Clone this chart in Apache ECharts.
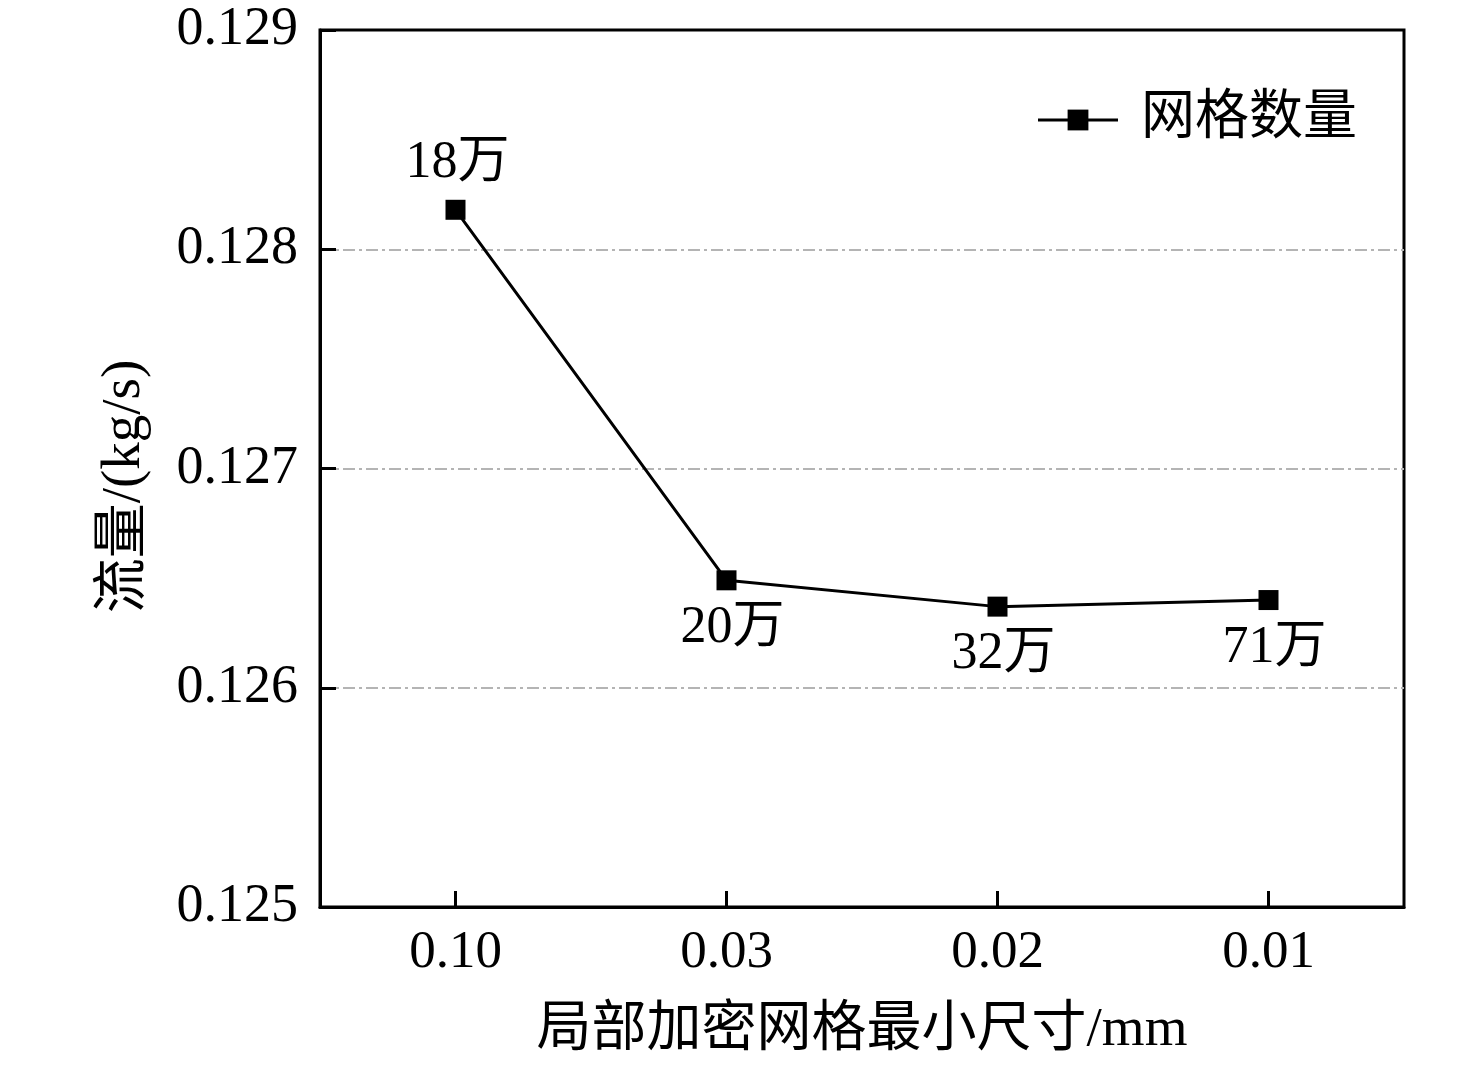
<!DOCTYPE html>
<html>
<head>
<meta charset="utf-8">
<script src="https://cdn.jsdelivr.net/npm/echarts@6/dist/echarts.min.js"></script>
<style>
  html, body { margin: 0; padding: 0; background: #fff; }
  #chart { width: 1476px; height: 1066px; }
</style>
</head>
<body>
<div id="chart"></div>
<script>
const sizes = ['0.10', '0.03', '0.02', '0.01']
const flow = [0.12818, 0.12649, 0.12637, 0.12640]
const meshCount = ['18万', '20万', '32万', '71万']
const yTicks = [0.125, 0.126, 0.127, 0.128, 0.129]

const FONT = '"Liberation Serif", "Times New Roman", "Noto Sans CJK SC", serif'
const chart = echarts.init(document.getElementById('chart'))

// first label sits above the point, the rest below
let points = flow.map(function (v, i) {
  return {
    value: v,
    label: {
      formatter: meshCount[i],
      position: i == 0 ? 'top' : 'bottom',
      distance: i == 0 ? 10 : 12,
      offset: i == 0 ? [2, 0] : [6, 0]
    }
  }
})

chart.setOption({
  animation: false,
  grid: {
    left: 320, right: 72, top: 30, bottom: 159,
    show: true,
    borderColor: '#000',
    borderWidth: 3
  },
  legend: {
    right: 114,
    top: 88,
    itemWidth: 80,
    itemHeight: 26,
    lineStyle: { width: 3 },
    textStyle: { fontFamily: FONT, fontSize: 54, color: '#000', padding: [0, 0, 0, 18] },
    data: ['网格数量']
  },
  xAxis: {
    type: 'category',
    data: sizes,
    name: '局部加密网格最小尺寸/mm',
    nameLocation: 'middle',
    nameGap: 96,
    nameTextStyle: { fontFamily: FONT, fontSize: 55, color: '#000' },
    axisLine: { lineStyle: { color: '#000', width: 3 } },
    axisTick: { show: true, inside: true, length: 16, alignWithLabel: true, lineStyle: { color: '#000', width: 3 } },
    axisLabel: { fontFamily: FONT, fontSize: 53, color: '#000', margin: 20 },
    splitLine: { show: false }
  },
  yAxis: {
    type: 'value',
    min: yTicks[0],
    max: yTicks[yTicks.length - 1],
    interval: 0.001,
    name: '流量/(kg/s)',
    nameLocation: 'middle',
    nameGap: 168,
    nameTextStyle: { fontFamily: FONT, fontSize: 55, color: '#000', padding: [0, 36, 0, 0] },
    axisLine: { show: true, lineStyle: { color: '#000', width: 3 } },
    axisTick: { show: true, inside: true, length: 16, lineStyle: { color: '#000', width: 3 } },
    axisLabel: {
      fontFamily: FONT, fontSize: 54, color: '#000', margin: 22,
      formatter: function (v) { return v.toFixed(3) }
    },
    splitLine: {
      show: true, showMinLine: false, showMaxLine: false,
      lineStyle: { color: '#b4b4b4', width: 2, type: [12, 4, 3, 4] }
    }
  },
  series: [{
    name: '网格数量',
    type: 'line',
    data: points,
    symbol: 'rect',
    symbolSize: 20,
    itemStyle: { color: '#000' },
    lineStyle: { color: '#000', width: 3 },
    label: {
      show: true,
      fontFamily: FONT,
      fontSize: 52,
      color: '#000'
    }
  }]
})
</script>
</body>
</html>
